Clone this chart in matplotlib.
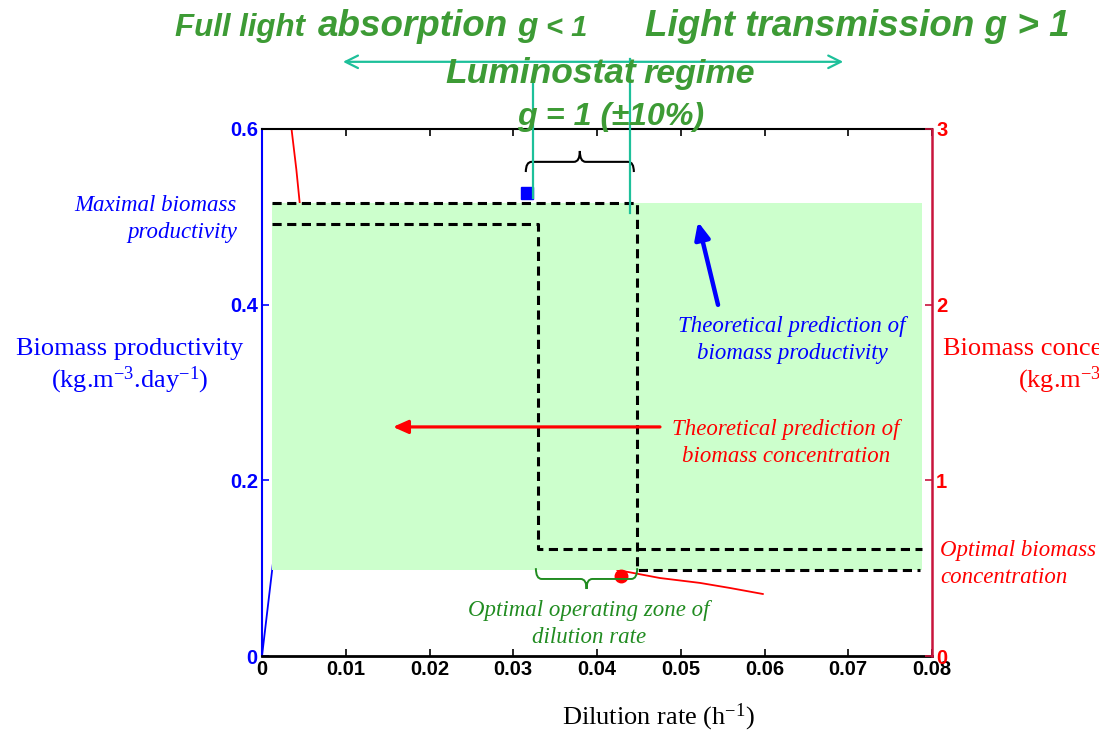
import matplotlib
matplotlib.use("Agg")
import matplotlib.pyplot as plt
from matplotlib.patches import Rectangle, PathPatch
from matplotlib.path import Path

plt.rcParams["mathtext.fontset"] = "custom"
plt.rcParams["mathtext.rm"] = "Liberation Serif"
plt.rcParams["mathtext.it"] = "Liberation Serif:italic"

# ---- data -------------------------------------------------------------
x_ticks = [0, 0.01, 0.02, 0.03, 0.04, 0.05, 0.06, 0.07, 0.08]
x_ticklabels = ["0", "0.01", "0.02", "0.03", "0.04", "0.05", "0.06", "0.07", "0.08"]
prod_ticks = [0, 0.2, 0.4, 0.6]
prod_ticklabels = ["0", "0.2", "0.4", "0.6"]
conc_ticks = [0, 1, 2, 3]
conc_ticklabels = ["0", "1", "2", "3"]

# measured productivity (left axis) near the origin
prod_D = [0.0, 0.0013]
prod_P = [0.0, 0.105]

# measured biomass concentration (right axis), two visible branches
conc_D_low = [0.0034, 0.0041, 0.0045, 0.0048]
conc_X_low = [3.05, 2.77, 2.58, 2.45]
conc_D_high = [0.0420, 0.0424, 0.0475, 0.0523, 0.0559, 0.0598]
conc_X_high = [0.51, 0.49, 0.444, 0.416, 0.387, 0.353]

# theoretical step predictions
pred_prod_D = [0.0012, 0.0330, 0.0330, 0.0788]
pred_prod_P = [0.492, 0.492, 0.122, 0.122]
pred_conc_D = [0.0012, 0.0448, 0.0448, 0.0786]
pred_conc_X = [2.58, 2.58, 0.49, 0.49]

# optimum points
max_prod_D, max_prod_P = 0.0316, 0.527
opt_conc_D, opt_conc_X = 0.0429, 0.456

# shaded operating region
zone_D = (0.0012, 0.0788)
zone_P = (0.098, 0.516)

# luminostat bounds (dilution rate)
lumi_low, lumi_high = 0.0324, 0.0439
opt_zone = (0.0327, 0.0448)

# ---- figure -----------------------------------------------------------
W, H = 1099, 731
fig = plt.figure(figsize=(W / 100, H / 100), dpi=100)


def fx(px):
    return px / W


def fy(py):
    return 1 - py / H


ax = fig.add_axes([fx(262), fy(656), 670 / W, 527 / H])
ax2 = ax.twinx()

ax.set_xlim(0, 0.08)
ax.set_ylim(0, 0.6)
ax2.set_ylim(0, 3)

BLUE = "#0000ff"
RED = "#ff0000"
CRIMSON = "#c8143c"
GREEN_T = "#3d9b35"
GREEN_D = "#218c21"
CYAN = "#1dc09a"

# spines
ax.spines["left"].set_color(BLUE)
ax.spines["left"].set_linewidth(1.5)
ax.spines["right"].set_visible(False)
ax.spines["bottom"].set_linewidth(2.0)
ax.spines["top"].set_linewidth(1.5)
for s in ("left", "top", "bottom"):
    ax2.spines[s].set_visible(False)
ax2.spines["right"].set_color(CRIMSON)
ax2.spines["right"].set_linewidth(1.8)

ax.set_xticks(x_ticks)
ax.set_xticklabels(x_ticklabels)
ax.set_yticks(prod_ticks)
ax.set_yticklabels(prod_ticklabels)
ax2.set_yticks(conc_ticks)
ax2.set_yticklabels(conc_ticklabels)

ax.tick_params(axis="x", direction="in", top=True, length=5, width=1.2,
               labelsize=14.5, pad=3)
ax.tick_params(axis="y", direction="in", length=5, width=1.2, colors=BLUE,
               labelsize=14.5, pad=3)
ax2.tick_params(axis="y", direction="in", length=5, width=1.2, colors=CRIMSON,
                labelcolor=RED, labelsize=14.5, pad=3)
for lab in ax.get_xticklabels() + ax.get_yticklabels() + ax2.get_yticklabels():
    lab.set_fontweight("bold")
    lab.set_family("Liberation Sans")

# measured curves (behind the shaded zone)
ax.plot(prod_D, prod_P, color=BLUE, lw=1.3, zorder=2)
ax.plot(conc_D_low, conc_X_low, color=RED, lw=1.3, zorder=2,
        transform=ax2.transData)
ax.plot(conc_D_high, conc_X_high, color=RED, lw=1.3, zorder=2,
        transform=ax2.transData)

# shaded zone
ax.add_patch(Rectangle((zone_D[0], zone_P[0]), zone_D[1] - zone_D[0],
                       zone_P[1] - zone_P[0], facecolor="#ccffcc",
                       edgecolor="none", zorder=3))

# theoretical predictions
ax.plot(pred_prod_D, pred_prod_P, color="black", lw=2.2,
        linestyle=(0, (3, 1.8)), zorder=4)
ax.plot(pred_conc_D, pred_conc_X, color="black", lw=2.2,
        linestyle=(0, (3, 1.8)), zorder=4, transform=ax2.transData)

# optimum markers
ax.plot([max_prod_D], [max_prod_P], marker="s", ms=8, color=BLUE,
        linestyle="none", zorder=5, clip_on=False)
ax.plot([opt_conc_D], [opt_conc_X], marker="o", ms=9, color=RED,
        linestyle="none", zorder=5, transform=ax2.transData)


def brace(x0, x1, y_end, y_mid, y_tip, color, lw):
    xc = (x0 + x1) / 2
    dx = 0.0007
    verts = [(x0, y_end), (x0, y_mid), (x0 + dx, y_mid),
             (xc - dx, y_mid), (xc, y_mid), (xc, y_tip),
             (xc, y_mid), (xc + dx, y_mid),
             (x1 - dx, y_mid), (x1, y_mid), (x1, y_end)]
    codes = [Path.MOVETO, Path.CURVE3, Path.CURVE3,
             Path.LINETO, Path.CURVE3, Path.CURVE3,
             Path.CURVE3, Path.CURVE3,
             Path.LINETO, Path.CURVE3, Path.CURVE3]
    ax.add_patch(PathPatch(Path(verts, codes), facecolor="none",
                           edgecolor=color, lw=lw, zorder=6, clip_on=False))


brace(0.0315, 0.0444, 0.551, 0.5626, 0.575, "black", 1.5)
brace(opt_zone[0], opt_zone[1], 0.100, 0.0877, 0.0763, GREEN_D, 1.4)

# luminostat markers
ax.plot([lumi_low, lumi_low], [0.5216, 0.657], color=CYAN, lw=1.6,
        zorder=6, clip_on=False)
ax.plot([lumi_high, lumi_high], [0.5046, 0.680], color=CYAN, lw=1.6,
        zorder=6, clip_on=False)
ax.annotate("", xy=(0.00967, 0.6765), xytext=(0.0694, 0.6765),
            xycoords="data", annotation_clip=False,
            arrowprops=dict(arrowstyle="<->,head_length=0.9,head_width=0.45",
                            color=CYAN, lw=1.6, shrinkA=0, shrinkB=0),
            zorder=6)

# pointer arrows
ax.annotate("", xy=(0.05206, 0.4943), xytext=(0.05445, 0.3998),
            arrowprops=dict(arrowstyle="-|>,head_length=1.0,head_width=0.45",
                            color=BLUE, lw=3.2, shrinkA=0, shrinkB=0),
            zorder=7)
ax.annotate("", xy=(0.01564, 0.2608), xytext=(0.04752, 0.2608),
            arrowprops=dict(arrowstyle="-|>,head_length=0.9,head_width=0.4",
                            color=RED, lw=2.3, shrinkA=0, shrinkB=0),
            zorder=7)

# ---- text -------------------------------------------------------------
SERIF = "Liberation Serif"
SANS = "Liberation Sans"


def head(px, py, s, size):
    fig.text(fx(px), fy(py), s, ha="left", va="baseline", color=GREEN_T,
             fontsize=size, fontweight="bold", fontstyle="italic", family=SANS)


head(175, 36, "Full light", 22.5)
head(318, 36, "absorption", 26.5)
head(517, 36, "g", 24)
head(546, 36, "< 1", 21)
head(645, 36, "Light transmission g > 1", 26.5)
head(445, 83, "Luminostat", 25.5)
head(643, 83, "regime", 24.5)
head(517, 125, "g = 1 (±10%)", 23.2)

ITAL = dict(fontsize=16.5, fontstyle="italic", family=SERIF, linespacing=1.35)

fig.text(fx(237), fy(219), "Maximal biomass\nproductivity", ha="right",
         va="center", multialignment="right", color=BLUE, **ITAL)
fig.text(fx(130), fy(367), "Biomass productivity\n(kg.m$^{-3}$.day$^{-1}$)",
         ha="center", va="center", multialignment="center", color=BLUE,
         fontsize=19, family=SERIF, linespacing=1.2)
fig.text(fx(943), fy(367), "Biomass concentration\n(kg.m$^{-3}$)",
         ha="left", va="center", multialignment="center", color=RED,
         fontsize=19, family=SERIF, linespacing=1.2)
fig.text(fx(792), fy(340), "Theoretical prediction of\nbiomass productivity",
         ha="center", va="center", multialignment="center", color=BLUE, **ITAL)
fig.text(fx(786), fy(443), "Theoretical prediction of\nbiomass concentration",
         ha="center", va="center", multialignment="center", color=RED, **ITAL)
fig.text(fx(940), fy(564), "Optimal biomass\nconcentration",
         ha="left", va="center", multialignment="left", color=RED, **ITAL)
fig.text(fx(589), fy(624), "Optimal operating zone of\ndilution rate",
         ha="center", va="center", multialignment="center", color=GREEN_D,
         **ITAL)
fig.text(fx(658), fy(717), "Dilution rate (h$^{-1}$)", ha="center",
         va="center", color="black", fontsize=19, family=SERIF)

fig.savefig("out.png", dpi=100)
